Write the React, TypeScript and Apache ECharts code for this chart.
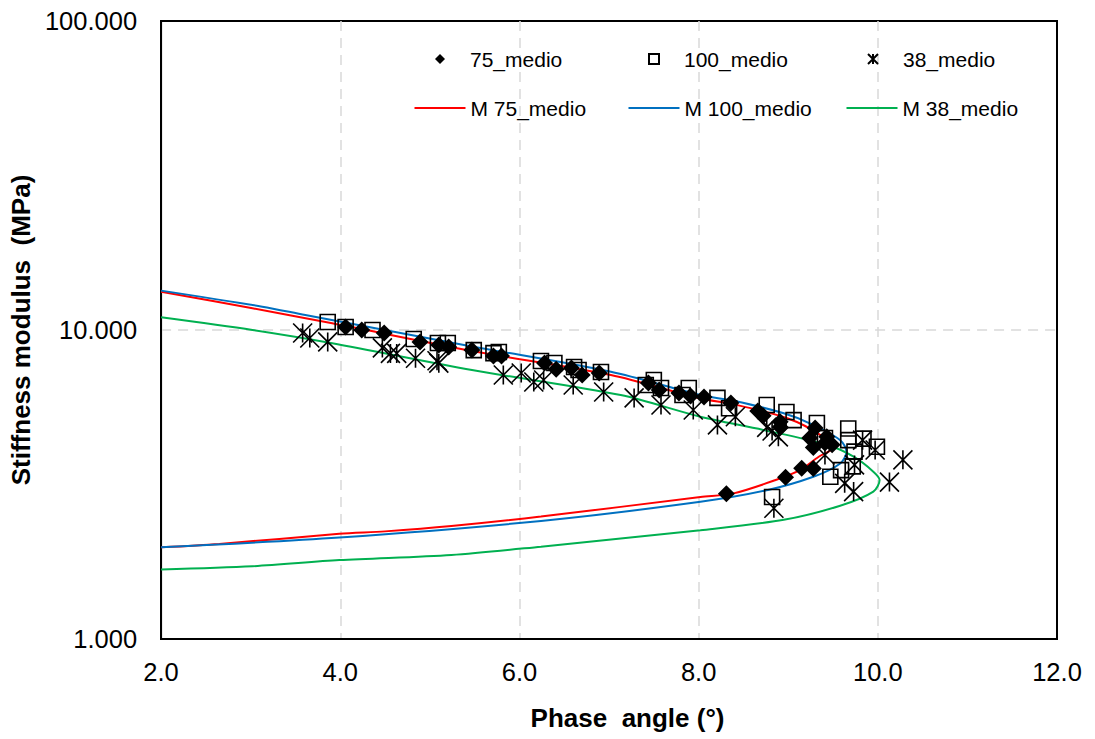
import React, { useEffect, useRef } from 'react';
import * as echarts from 'echarts';

// Measured points: [phase angle (°), stiffness modulus (MPa)]
const medio75: number[][] = [
  [4.06, 10.23], [4.24, 10.0], [4.49, 9.78], [4.89, 9.15], [5.10, 8.94], [5.21, 8.81],
  [5.47, 8.61], [5.71, 8.24], [5.80, 8.24], [6.28, 7.82], [6.41, 7.47], [6.58, 7.53],
  [6.70, 7.15], [6.89, 7.26], [7.44, 6.74], [7.56, 6.40], [7.78, 6.25], [7.91, 6.11],
  [8.06, 6.07], [8.36, 5.80], [8.66, 5.47], [8.72, 5.28], [8.91, 5.05], [8.91, 4.85],
  [9.30, 4.82], [9.43, 4.51], [9.24, 4.47], [9.41, 4.31], [9.49, 4.25], [9.28, 4.17],
  [9.15, 3.57], [9.28, 3.56], [8.97, 3.34], [8.31, 2.95]
];

const medio100: number[][] = [
  [3.86, 10.61], [4.06, 10.23], [4.36, 10.0], [4.82, 9.35], [5.09, 9.08], [5.20, 9.08],
  [5.49, 8.61], [5.71, 8.42], [5.77, 8.49], [6.24, 7.94], [6.39, 7.82], [6.61, 7.59],
  [6.66, 7.42], [6.91, 7.31], [7.41, 6.64], [7.50, 6.89], [7.58, 6.49], [7.82, 6.16],
  [7.89, 6.49], [8.21, 6.03], [8.34, 5.58], [8.76, 5.72], [8.98, 5.43], [9.06, 5.11],
  [9.32, 5.00], [9.41, 4.47], [9.67, 4.80], [9.67, 4.40], [9.84, 4.45], [9.99, 4.19],
  [9.74, 4.04], [9.72, 3.62], [9.59, 3.52], [9.47, 3.35], [8.82, 2.88]
];

const medio38: number[][] = [
  [3.58, 9.78], [3.66, 9.42], [3.86, 9.15], [4.47, 8.75], [4.56, 8.40], [4.63, 8.40],
  [4.84, 8.10], [5.10, 7.81], [5.08, 7.95], [5.82, 7.15], [6.02, 7.26], [6.16, 6.79],
  [6.27, 6.89], [6.60, 6.64], [6.94, 6.30], [7.28, 6.03], [7.58, 5.72], [7.94, 5.51],
  [8.21, 4.93], [8.41, 5.24], [8.76, 4.84], [8.82, 4.71], [8.89, 4.51], [9.41, 3.94],
  [9.83, 4.40], [9.97, 4.09], [9.74, 3.66], [10.28, 3.80], [10.13, 3.22], [9.63, 3.19],
  [9.73, 3.00], [8.84, 2.65]
];

// Model curves, traced from the upper branch round the nose to the lower branch
const model75: number[][] = [
  [2.0, 13.3], [3.02, 11.76], [3.91, 10.51], [5.47, 8.55], [7.02, 7.15], [8.02, 6.0],
  [8.39, 5.75], [8.99, 5.18], [9.36, 4.57], [9.49, 4.14], [9.34, 3.89], [9.13, 3.52],
  [8.86, 3.27], [8.39, 2.96], [8.02, 2.88], [6.24, 2.49], [5.24, 2.32], [4.5, 2.23],
  [3.99, 2.19], [2.65, 2.03], [2.0, 1.98]
];

const model100: number[][] = [
  [2.0, 13.41], [3.13, 11.9], [3.61, 11.18], [5.47, 8.85], [7.02, 7.33], [8.02, 6.16],
  [8.39, 5.9], [8.95, 5.38], [9.24, 4.99], [9.58, 4.4], [9.65, 4.04], [9.58, 3.7],
  [9.28, 3.35], [8.76, 3.03], [8.02, 2.78], [6.24, 2.41], [3.99, 2.13], [2.0, 1.98]
];

const model38: number[][] = [
  [2.0, 10.99], [3.02, 10.0], [3.91, 9.06], [5.47, 7.42], [7.13, 6.16], [8.02, 5.24],
  [8.72, 4.75], [9.43, 4.25], [9.73, 3.89], [9.95, 3.48], [10.02, 3.27], [9.95, 3.0],
  [9.58, 2.7], [8.95, 2.43], [8.02, 2.25], [6.24, 1.99], [5.24, 1.87], [3.99, 1.80],
  [3.02, 1.72], [2.0, 1.68]
];

const FONT = '"Liberation Sans", Arial, Helvetica, sans-serif';
const ASTERISK = 'path://M0 0L20 20M20 0L0 20M10 0L10 20';

export default function App() {
  const ref = useRef<HTMLDivElement>(null);

  useEffect(() => {
    if (!ref.current) return;
    const chart = echarts.init(ref.current, undefined, { renderer: 'svg' });

    const gridLine = {
      show: true,
      showMinLine: false,
      showMaxLine: false,
      lineStyle: { color: '#d9d9d9', type: [10, 7], width: 1.5 }
    };
    // marker legends: small icon, text pushed right to its column
    const markerLegend = {
      padding: 0,
      itemWidth: 10,
      itemHeight: 10,
      selectedMode: false,
      top: 48.5,
      textStyle: { fontSize: 21, color: '#000', fontFamily: FONT, padding: [0, 0, 0, 20] }
    };
    // model legends: a short line segment before the text
    const lineLegend = {
      padding: 0,
      itemWidth: 51,
      itemHeight: 2,
      selectedMode: false,
      top: 97.5,
      textStyle: { fontSize: 21, color: '#000', fontFamily: FONT }
    };

    chart.setOption({
      animation: false,
      textStyle: { fontFamily: FONT },
      grid: {
        left: 158, top: 21, width: 899, height: 618,
        show: true, borderColor: '#000', borderWidth: 2, backgroundColor: '#fff'
      },
      xAxis: {
        type: 'value', min: 2, max: 12, interval: 2,
        axisLine: { show: true, onZero: false, lineStyle: { color: '#000', width: 2 } },
        axisTick: { show: false },
        axisLabel: {
          fontSize: 25.5, color: '#000', margin: 20,
          formatter: (v: number) => v.toFixed(1)
        },
        splitLine: gridLine,
        name: 'Phase  angle (°)',
        nameLocation: 'middle',
        nameGap: 66,
        nameTextStyle: { fontSize: 26, fontWeight: 'bold', color: '#000', padding: [0, 0, 0, 37] }
      },
      yAxis: {
        type: 'log', logBase: 10, min: 1, max: 100,
        axisLine: { show: true, lineStyle: { color: '#000', width: 2 } },
        axisTick: { show: false },
        minorTick: { show: false },
        axisLabel: {
          fontSize: 25.5, color: '#000', margin: 24,
          formatter: (v: number) => v.toFixed(3)
        },
        splitLine: gridLine,
        name: 'Stiffness modulus  (MPa)',
        nameLocation: 'middle',
        nameGap: 117,
        nameTextStyle: { fontSize: 26, fontWeight: 'bold', color: '#000' }
      },
      legend: [
        { ...markerLegend, left: 435, data: [{ name: '75_medio', icon: 'diamond' }] },
        { ...markerLegend, left: 648, data: [{ name: '100_medio', icon: 'rect' }] },
        { ...markerLegend, left: 867, data: [{ name: '38_medio', icon: ASTERISK }] },
        { ...lineLegend, left: 414.5, data: [{ name: 'M 75_medio', icon: 'rect' }] },
        { ...lineLegend, left: 628.5, data: [{ name: 'M 100_medio', icon: 'rect' }] },
        { ...lineLegend, left: 846.5, data: [{ name: 'M 38_medio', icon: 'rect' }] }
      ],
      series: [
        {
          name: 'M 75_medio', type: 'line', data: model75, symbol: 'none', smooth: 0.3, z: 2,
          lineStyle: { color: '#ff0000', width: 2 }, itemStyle: { color: '#ff0000' }
        },
        {
          name: 'M 100_medio', type: 'line', data: model100, symbol: 'none', smooth: 0.3, z: 2,
          lineStyle: { color: '#0070c0', width: 2 }, itemStyle: { color: '#0070c0' }
        },
        {
          name: 'M 38_medio', type: 'line', data: model38, symbol: 'none', smooth: 0.3, z: 2,
          lineStyle: { color: '#00b050', width: 2 }, itemStyle: { color: '#00b050' }
        },
        {
          name: '75_medio', type: 'scatter', data: medio75, symbol: 'diamond', symbolSize: 17, z: 3,
          itemStyle: { color: '#000', opacity: 1 }
        },
        {
          name: '100_medio', type: 'scatter', data: medio100, symbol: 'rect', symbolSize: 15, z: 3,
          itemStyle: { color: 'rgba(0,0,0,0)', borderColor: '#000', borderWidth: 1.6, opacity: 1 }
        },
        {
          name: '38_medio', type: 'scatter', data: medio38, symbol: ASTERISK, symbolSize: 19, z: 3,
          itemStyle: { color: 'rgba(0,0,0,0)', borderColor: '#000', borderWidth: 1.6, opacity: 1 }
        }
      ]
    });

    return () => chart.dispose();
  }, []);

  return (
    <div
      ref={ref}
      style={{ position: 'fixed', left: 0, top: 0, width: 1095, height: 739, background: '#fff' }}
    />
  );
}
